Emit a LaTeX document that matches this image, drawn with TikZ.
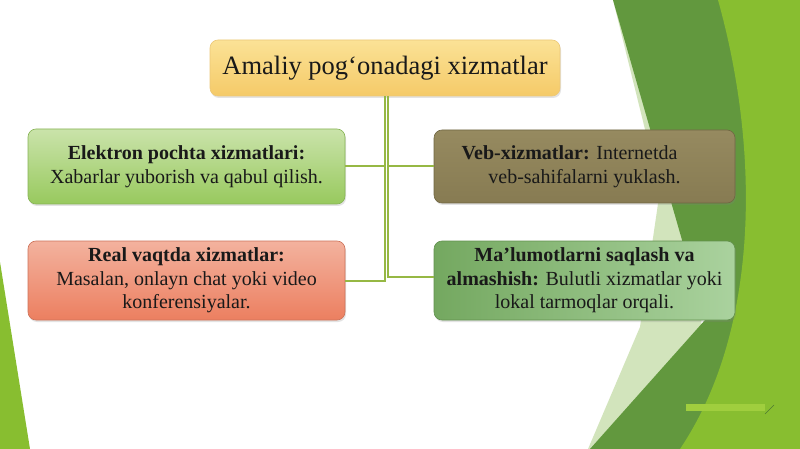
\documentclass[tikz,border=0pt]{standalone}
\usepackage{fontspec}
\setmainfont{Liberation Serif}
\usepackage{xcolor}
\usetikzlibrary{calc, shadows}
\definecolor{bg_lime}{RGB}{136,190,48}
\definecolor{bg_mid}{RGB}{98,152,62}
\definecolor{bg_pale}{RGB}{210,228,188}
\definecolor{bg_bar}{RGB}{160,206,62}
\definecolor{ln_olive}{RGB}{150,184,68}
\tikzset{
  svc/.style = {align=center, inner sep=0pt, rounded corners=8pt,
    font=\fontsize{20}{23.5}\selectfont, text=black!90, line width=0.6pt,
    drop shadow={opacity=0.22, shadow xshift=1pt, shadow yshift=-2pt}},
  svc_t/.style = {svc, minimum width=350pt, minimum height=56pt,
    font=\fontsize{26.5}{30}\selectfont, draw={rgb,255:red,236;green,200;blue,120},
    top color={rgb,255:red,251;green,226;blue,150},
    bottom color={rgb,255:red,245;green,202;blue,104}},% sarlavha
  svc_g/.style = {svc, minimum width=317pt, minimum height=75pt,
    draw={rgb,255:red,135;green,180;blue,85},
    top color={rgb,255:red,202;green,227;blue,170},
    bottom color={rgb,255:red,152;green,201;blue,94}},% yashil
  svc_o/.style = {svc, minimum width=301pt, minimum height=73pt,
    draw={rgb,255:red,112;green,102;blue,66},
    top color={rgb,255:red,150;green,138;blue,96},
    bottom color={rgb,255:red,135;green,123;blue,82}},% zaytun
  svc_r/.style = {svc, minimum width=317pt, minimum height=79pt,
    draw={rgb,255:red,205;green,115;blue,90},
    top color={rgb,255:red,243;green,178;blue,158},
    bottom color={rgb,255:red,236;green,127;blue,96}},% qizg'ish
  svc_s/.style = {svc, minimum width=301pt, minimum height=79pt,
    draw={rgb,255:red,98;green,145;blue,78},
    left color={rgb,255:red,116;green,168;blue,96},
    right color={rgb,255:red,170;green,210;blue,158}},% dengiz yashil
  link/.style = {draw=ln_olive, line width=2pt}
}
\begin{document}
\begin{tikzpicture}[x=1pt, y=-1pt]
\useasboundingbox (0,0) rectangle (800,449);
\fill[white] (0,0) rectangle (800,449);

% fon shakllari
\fill[bg_pale] (613,0) -- (660,190) -- (640,327) -- (588,449) -- (700,449) -- (705,0) -- cycle;
\fill[bg_mid] (613,0) -- (800,0) -- (800,449) -- (590,449) -- (705,320) -- cycle;
\fill[bg_lime] (718,0) .. controls (760,150) and (760,330) .. (680,449) -- (800,449) -- (800,0) -- cycle;
\fill[bg_lime] (0,262) -- (30,449) -- (0,449) -- cycle;
\coordinate (p1) at (686,407);
\coordinate (p2) at (765,407);
\draw[line width=7pt, bg_bar] (p1) -- (p2);
\draw[line width=0.6pt, bg_mid!80!black] ($(p2)+(0,7)$) -- ($(p2)+(9,-2)$);

\node[svc_t] (s0) at (385,68) {Amaliy pog‘onadagi xizmatlar};

\node[svc_g] (s1) at (186.5,166.5)
  {\textbf{Elektron pochta xizmatlari:}\\Xabarlar yuborish va qabul qilish.};
\node[svc_o] (s2) at (584.5,166.5)
  {\textbf{Veb-xizmatlar:} Internetda\makebox[30pt]{}\\veb-sahifalarni yuklash.};
\node[svc_r] (s3) at (186.5,280.5)
  {\textbf{Real vaqtda xizmatlar:}\\Masalan, onlayn chat yoki video\\konferensiyalar.};
\node[svc_s] (s4) at (584.5,280.5)
  {\textbf{Ma’lumotlarni saqlash va}\\\textbf{almashish:} Bulutli xizmatlar yoki\\lokal tarmoqlar orqali.};

\draw[link] (s0.south) |- (s1.east);
\draw[link] (s0.south) |- (s3.east);
\draw[link] ([xshift=3pt]s0.south) |- (s2.west);
\draw[link] ([xshift=3pt]s0.south) |- ([yshift=3.5pt]s4.west);
\end{tikzpicture}
\end{document}
